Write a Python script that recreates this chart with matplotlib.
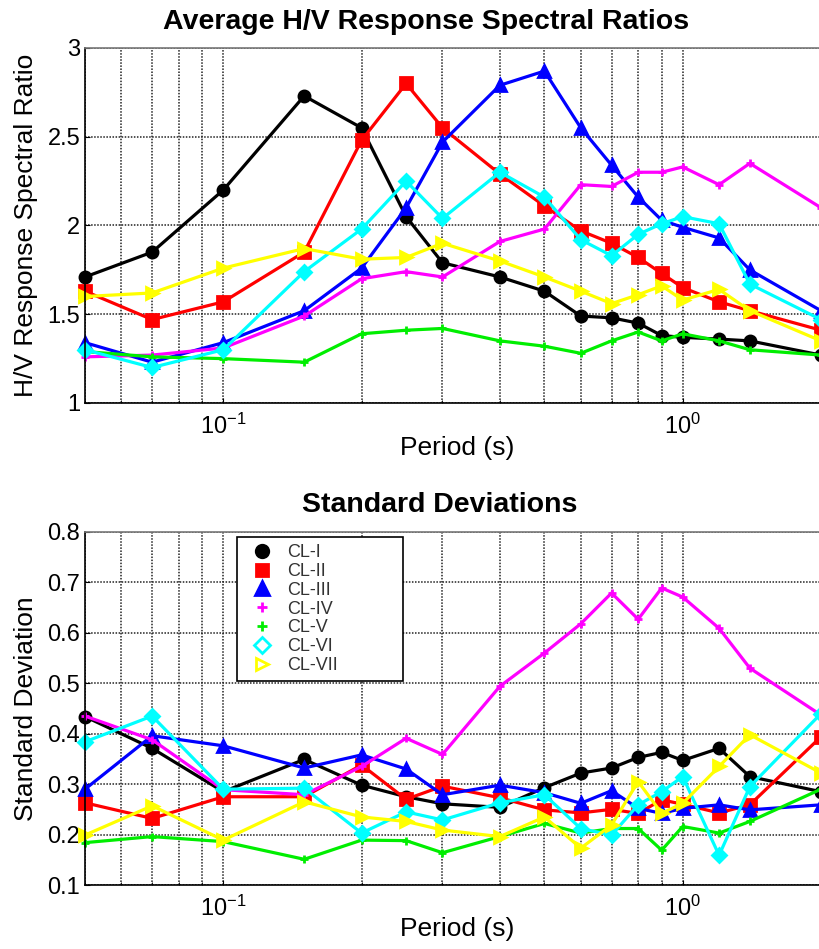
import matplotlib
matplotlib.use("Agg")
import matplotlib.pyplot as plt
from matplotlib.lines import Line2D

plt.rcParams['font.family'] = ['Liberation Sans', 'DejaVu Sans']
plt.rcParams['mathtext.default'] = 'regular'

# periods (s)
period = [0.05, 0.07, 0.1, 0.15, 0.2, 0.25, 0.3, 0.4, 0.5, 0.6, 0.7, 0.8, 0.9, 1.0, 1.2, 1.4, 2.0]

labels = ['CL-I', 'CL-II', 'CL-III', 'CL-IV', 'CL-V', 'CL-VI', 'CL-VII']

# average H/V ratios
hv_1 = [1.71, 1.85, 2.20, 2.73, 2.55, 2.05, 1.79, 1.71, 1.63, 1.49, 1.48, 1.45, 1.38, 1.37, 1.36, 1.35, 1.27]
hv_2 = [1.63, 1.47, 1.57, 1.85, 2.48, 2.80, 2.55, 2.29, 2.11, 1.97, 1.90, 1.82, 1.73, 1.65, 1.57, 1.52, 1.41]
hv_3 = [1.34, 1.23, 1.34, 1.52, 1.76, 2.10, 2.47, 2.79, 2.87, 2.55, 2.34, 2.16, 2.03, 1.99, 1.93, 1.75, 1.52]
hv_4 = [1.26, 1.27, 1.31, 1.49, 1.70, 1.74, 1.71, 1.91, 1.98, 2.23, 2.22, 2.30, 2.30, 2.33, 2.23, 2.35, 2.10]
hv_5 = [1.29, 1.26, 1.25, 1.23, 1.39, 1.41, 1.42, 1.35, 1.32, 1.28, 1.35, 1.40, 1.35, 1.39, 1.35, 1.30, 1.27]
hv_6 = [1.30, 1.20, 1.30, 1.74, 1.98, 2.25, 2.04, 2.30, 2.16, 1.92, 1.83, 1.95, 2.01, 2.05, 2.01, 1.67, 1.47]
hv_7 = [1.60, 1.62, 1.76, 1.87, 1.81, 1.82, 1.90, 1.80, 1.71, 1.63, 1.56, 1.61, 1.66, 1.58, 1.64, 1.52, 1.35]

# standard deviations
sd_1 = [0.434, 0.371, 0.285, 0.349, 0.298, 0.275, 0.261, 0.254, 0.293, 0.322, 0.332, 0.353, 0.363, 0.347, 0.371, 0.315, 0.285]
sd_2 = [0.263, 0.232, 0.275, 0.275, 0.338, 0.270, 0.296, 0.273, 0.249, 0.243, 0.250, 0.242, 0.269, 0.260, 0.243, 0.259, 0.394]
sd_3 = [0.290, 0.396, 0.376, 0.332, 0.358, 0.330, 0.279, 0.298, 0.283, 0.262, 0.287, 0.252, 0.242, 0.252, 0.259, 0.249, 0.259]
sd_4 = [0.435, 0.388, 0.289, 0.279, 0.335, 0.391, 0.359, 0.494, 0.560, 0.618, 0.679, 0.627, 0.689, 0.671, 0.609, 0.530, 0.437]
sd_5 = [0.184, 0.196, 0.186, 0.151, 0.189, 0.188, 0.164, 0.196, 0.222, 0.203, 0.212, 0.212, 0.169, 0.216, 0.203, 0.226, 0.290]
sd_6 = [0.384, 0.435, 0.290, 0.292, 0.203, 0.245, 0.229, 0.263, 0.279, 0.212, 0.199, 0.259, 0.285, 0.315, 0.159, 0.295, 0.440]
sd_7 = [0.199, 0.257, 0.189, 0.265, 0.235, 0.226, 0.209, 0.196, 0.235, 0.173, 0.219, 0.305, 0.242, 0.262, 0.335, 0.398, 0.322]

hv_all = [hv_1, hv_2, hv_3, hv_4, hv_5, hv_6, hv_7]
sd_all = [sd_1, sd_2, sd_3, sd_4, sd_5, sd_6, sd_7]

colors = ['black', 'red', 'blue', 'magenta', '#00ee00', 'cyan', 'yellow']
markers = ['o', 's', '^', '+', '+', 'D', '>']
msizes = [8, 8, 9, 6, 6, 7, 8]


def style_axes(ax, ylim, yticks, ylabel):
    ax.set_xscale('log')
    ax.set_xlim(0.05, 2.0)
    ax.set_ylim(*ylim)
    ax.set_yticks(yticks)
    ax.set_yticklabels([('%g' % t) for t in yticks])
    ax.grid(True, which='both', color='#222222', linestyle=(0, (1, 1)), linewidth=1.1)
    ax.tick_params(axis='both', which='both', direction='in', labelsize=17)
    ax.tick_params(axis='x', which='major', pad=8)
    ax.set_ylabel(ylabel, fontsize=19, labelpad=7)
    for s in ax.spines.values():
        s.set_linewidth(1.2)
    ax.spines['top'].set_color('#777777')


fig = plt.figure(figsize=(8.19, 9.49), dpi=100)
ax1 = fig.add_axes([85 / 819, 1 - 403 / 949, 736 / 819, 355 / 949])
ax2 = fig.add_axes([85 / 819, 1 - 885 / 949, 736 / 819, 353 / 949])

for i in range(7):
    ax1.plot(period, hv_all[i], color=colors[i], marker=markers[i], ms=msizes[i],
             mew=2, lw=2.3, clip_on=False)
    ax2.plot(period, sd_all[i], color=colors[i], marker=markers[i], ms=msizes[i],
             mew=2, lw=2.3, clip_on=False)

style_axes(ax1, (1, 3), [1, 1.5, 2, 2.5, 3], 'H/V Response Spectral Ratio')
style_axes(ax2, (0.1, 0.8), [0.1, 0.2, 0.3, 0.4, 0.5, 0.6, 0.7, 0.8], 'Standard Deviation')

ax1.set_xlabel('Period (s)', fontsize=19, labelpad=0)
ax2.set_xlabel('Period (s)', fontsize=19, labelpad=0)
ax1.xaxis.set_label_coords((457 - 85) / 736, -33 / 355)
ax2.xaxis.set_label_coords((457 - 85) / 736, -32 / 353)

fig.text(426 / 819, 1 - 22 / 949, 'Average H/V Response Spectral Ratios',
         ha='center', va='center', fontsize=20.5, fontweight='bold')
fig.text(440 / 819, 1 - 505 / 949, 'Standard Deviations',
         ha='center', va='center', fontsize=20.5, fontweight='bold')

handles = []
for i in range(7):
    face = 'none' if i >= 5 else colors[i]
    handles.append(Line2D([], [], ls='none', marker=markers[i], color=colors[i],
                          mfc=face, ms=msizes[i] + 1, mew=2))
leg = ax2.legend(handles, labels, loc='upper left',
                 bbox_to_anchor=(0.2065, 0.986 - 0.405, 0.2255, 0.405), mode='expand',
                 borderaxespad=0, fontsize=13, frameon=True, fancybox=False,
                 framealpha=1, edgecolor='black', labelspacing=0.1,
                 handletextpad=0.4, borderpad=0.4)
leg.get_frame().set_linewidth(1.2)
for t in leg.get_texts():
    t.set_color('#333333')

fig.savefig('out.png', dpi=100)
